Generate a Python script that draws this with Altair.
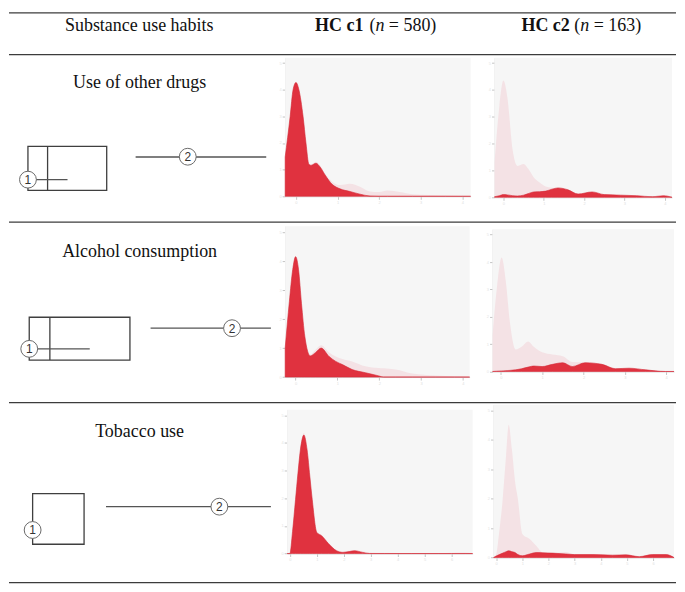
import altair as alt
import pandas as pd

# ---------------- data ----------------
row_labels = ["Use of other drugs", "Alcohol consumption", "Tobacco use"]
col_titles = ["HC c1", "HC c2"]
col_n = ["580", "163"]

# Row 1 - Use of other drugs
r1c1_x = [-0.26, -0.14, -0.07, 0.0, 0.07, 0.17, 0.24, 0.31, 0.36, 0.48, 0.58, 0.70, 0.87,
          1.06, 1.3, 1.54, 1.78, 2.0, 2.2, 2.5, 2.8, 3.2, 3.6, 4.0, 4.2]
r1c1_red = [1.47, 3.0, 4.0, 4.27, 4.0, 3.0, 2.0, 1.2, 1.16, 1.24, 1.1, 0.8, 0.45,
            0.28, 0.18, 0.08, 0.01, 0, 0, 0, 0, 0, 0, 0, 0]
r1c1_all = [1.47, 3.0, 4.0, 4.3, 4.02, 3.02, 2.02, 1.24, 1.2, 1.3, 1.16, 0.86, 0.55,
            0.42, 0.47, 0.36, 0.18, 0.16, 0.22, 0.16, 0.08, 0.05, 0.03, 0.01, 0.01]

r1c2_x = [-0.22, -0.1, 0.0, 0.1, 0.23, 0.35, 0.5, 0.62, 0.75, 0.9, 1.05, 1.2, 1.35,
          1.6, 1.85, 2.2, 2.5, 2.9, 3.3, 3.7, 3.97, 4.18]
r1c2_all = [1.3, 3.4, 4.35, 3.7, 1.75, 1.17, 1.24, 1.05, 0.75, 0.55, 0.4, 0.36, 0.35,
            0.28, 0.15, 0.2, 0.1, 0.08, 0.06, 0.03, 0.06, 0.0]
r1c2_red = [0.02, 0.06, 0.1, 0.09, 0.06, 0.05, 0.08, 0.14, 0.2, 0.21, 0.23, 0.3, 0.35,
            0.28, 0.12, 0.2, 0.1, 0.08, 0.06, 0.02, 0.06, 0.0]

# Row 2 - Alcohol consumption
r2c1_x = [-0.25, -0.15, -0.07, 0.0, 0.07, 0.14, 0.22, 0.35, 0.48, 0.61, 0.8, 0.96,
          1.12, 1.35, 1.67, 1.99, 2.1, 2.39, 2.79, 3.35, 3.8, 4.16]
r2c1_red = [1.0, 2.6, 3.7, 4.15, 3.7, 2.54, 1.4, 0.73, 0.85, 1.0, 0.71, 0.54,
            0.43, 0.26, 0.15, 0.04, 0.0, 0.0, 0.0, 0.0, 0.0, 0.0]
r2c1_all = [1.0, 2.6, 3.7, 4.17, 3.72, 2.58, 1.45, 0.78, 0.95, 1.1, 0.85, 0.71,
            0.62, 0.54, 0.37, 0.31, 0.3, 0.26, 0.12, 0.05, 0.02, 0.0]

r2c2_x = [-0.2, -0.1, 0.02, 0.12, 0.22, 0.36, 0.5, 0.66, 0.8, 1.0, 1.25, 1.5, 1.73,
          2.04, 2.45, 2.77, 3.1, 3.5, 3.98, 4.19]
r2c2_all = [1.3, 3.0, 4.17, 3.3, 1.8, 0.8, 0.9, 1.1, 0.9, 0.7, 0.62, 0.56, 0.35,
            0.33, 0.27, 0.12, 0.12, 0.07, 0.0, 0.0]
r2c2_red = [0.0, 0.01, 0.02, 0.03, 0.04, 0.06, 0.1, 0.16, 0.2, 0.18, 0.26, 0.32, 0.18,
            0.32, 0.26, 0.1, 0.12, 0.06, 0.0, 0.0]

# Row 3 - Tobacco use
r3c1_x = [-0.1, 0.0, 0.1, 0.21, 0.3, 0.39, 0.52, 0.64, 0.74, 0.83, 1.0, 1.18, 1.43,
          1.73, 1.97, 2.2, 2.4, 2.7, 2.96, 3.5, 4.5, 5.5, 6.0, 6.5, 6.78]
r3c1_red = [0.0, 0.0, 0.8, 1.95, 2.9, 3.74, 4.28, 3.74, 2.8, 1.95, 0.76, 0.64, 0.36,
            0.1, 0.04, 0.07, 0.1, 0.04, 0.0, 0.0, 0.0, 0.0, 0.0, 0.0, 0.0]
r3c1_all = [0.0, 0.0, 0.82, 2.0, 2.95, 3.8, 4.36, 3.8, 2.85, 2.0, 0.8, 0.68, 0.4,
            0.14, 0.08, 0.1, 0.13, 0.08, 0.04, 0.03, 0.02, 0.02, 0.03, 0.04, 0.02]

r3c2_x = [-0.1, 0.0, 0.12, 0.25, 0.38, 0.48, 0.6, 0.72, 0.83, 1.0, 1.28, 1.53, 1.79,
          2.16, 2.67, 3.0, 3.7, 4.45, 4.96, 5.47, 5.98, 6.5, 6.8]
r3c2_all = [0.0, 0.1, 0.9, 1.99, 3.48, 4.52, 3.7, 2.6, 1.99, 0.8, 0.63, 0.4, 0.17,
            0.15, 0.19, 0.1, 0.1, 0.08, 0.09, 0.03, 0.1, 0.1, 0.0]
r3c2_red = [0.0, 0.05, 0.1, 0.15, 0.2, 0.23, 0.2, 0.17, 0.1, 0.06, 0.12, 0.17, 0.16,
            0.15, 0.12, 0.1, 0.1, 0.08, 0.09, 0.03, 0.1, 0.1, 0.0]

# ---------------- styling / layout ----------------
RED = "#e0323f"
LIGHT = "#f4e2e5"
BG = "#f6f6f6"
SERIF = "Liberation Serif"
W, H = 669, 576
YMAX = 5.2

def density_panel(xs, allv, red, xdom, xticks, xr, yr):
    df = pd.DataFrame({"x": xs, "all": allv, "red": red})
    bg = pd.DataFrame({"x0": [xdom[0]], "x1": [xdom[1]], "y0": [0.0], "y1": [YMAX]})
    xsc = alt.Scale(domain=xdom, range=xr, nice=False, zero=False)
    ysc = alt.Scale(domain=[0, YMAX], range=yr, nice=False, zero=False)
    xax = alt.Axis(orient="bottom", offset=yr[0] - H, values=xticks, title=None,
                   grid=False, tickSize=3, tickColor="#c4c4c4", domainColor="#d6d6d6",
                   labelFontSize=4, labelColor="#e0e0e0", labelPadding=1)
    yax = alt.Axis(orient="left", offset=-xr[0], values=[0, 1, 2, 3, 4, 5], title=None,
                   grid=False, tickSize=3, tickColor="#c4c4c4", domainColor="#dcdcdc",
                   labelFontSize=4, labelColor="#e4e4e4", labelPadding=1)
    back = alt.Chart(bg).mark_rect(color=BG).encode(
        x=alt.X("x0:Q", scale=xsc, axis=xax), x2="x1:Q",
        y=alt.Y("y0:Q", scale=ysc, axis=yax), y2="y1:Q")
    base = alt.Chart(df)
    light = base.mark_area(color=LIGHT, interpolate="monotone").encode(
        x=alt.X("x:Q", scale=xsc, axis=xax),
        y=alt.Y("all:Q", scale=ysc, axis=yax))
    redm = base.mark_area(color=RED, interpolate="monotone",
                          stroke="#d42a38", strokeWidth=0.6).encode(
        x=alt.X("x:Q", scale=xsc, axis=xax),
        y=alt.Y("red:Q", scale=ysc, axis=yax))
    return alt.layer(back, light, redm)

# ---------------- table frame (rules, texts, diagrams) ----------------
px = lambda f: alt.X(f, scale=None, axis=None)
py = lambda f: alt.Y(f, scale=None, axis=None)

rules = pd.DataFrame({"x": 0, "x2": W, "y": [4, 46, 214, 395, 575.5]})
rule_layer = alt.Chart(rules).mark_rule(color="#3c3c3c", strokeWidth=1.2).encode(
    x=px("x:Q"), x2="x2:Q", y=py("y:Q"))

hdr_norm = pd.DataFrame({"t": ["(", "= " + col_n[0] + ")", "(", "= " + col_n[1] + ")"],
                         "x": [361.5, 381, 567, 586.5], "y": 22})
hdr_bold = pd.DataFrame({"t": col_titles, "x": [307, 514], "y": 22})
hdr_ital = pd.DataFrame({"t": ["n", "n"], "x": [367.5, 573], "y": 22})
hdr_left = pd.DataFrame({"t": ["Substance use habits"], "x": [130.6], "y": 22})
lbl = pd.DataFrame({"t": row_labels, "x": 131, "y": [79.5, 248.7, 429.3]})

def txt(df, align="left", weight="normal", style="normal"):
    return alt.Chart(df).mark_text(font=SERIF, fontSize=18, color="#111111",
                                   align=align, baseline="alphabetic",
                                   fontWeight=weight, fontStyle=style).encode(
        x=px("x:Q"), y=py("y:Q"), text="t:N")

boxes = pd.DataFrame({"x": [19, 20.3, 23.7], "x2": [98, 121.3, 75.3],
                      "y": [138, 309.3, 486.3], "y2": [182, 352.3, 537]})
box_layer = alt.Chart(boxes).mark_rect(fillOpacity=0, stroke="#3f3f3f",
                                       strokeWidth=1.3).encode(
    x=px("x:Q"), x2="x2:Q", y=py("y:Q"), y2="y2:Q")

vlines = pd.DataFrame({"x": [38.7, 41], "y": [138, 309.3], "y2": [182, 352.3]})
vline_layer = alt.Chart(vlines).mark_rule(color="#3f3f3f", strokeWidth=1.3).encode(
    x=px("x:Q"), y=py("y:Q"), y2="y2:Q")

hlines = pd.DataFrame({"x": [19, 20.3, 127, 142, 97.3],
                       "x2": [58.7, 81, 258, 262.7, 262.7],
                       "y": [171.3, 341, 148.6, 320.3, 499.3]})
hline_layer = alt.Chart(hlines).mark_rule(color="#555555", strokeWidth=1.3).encode(
    x=px("x:Q"), x2="x2:Q", y=py("y:Q"))

circ = pd.DataFrame({"t": ["1", "1", "1", "2", "2", "2"],
                     "x": [19, 20.3, 23.7, 179.3, 223.7, 211],
                     "y": [171.3, 341, 522.7, 148.3, 320.3, 499.3]})
circ_layer = alt.Chart(circ).mark_point(shape="circle", size=285, filled=True,
                                        fill="white", stroke="#6a6a6a",
                                        strokeWidth=1, opacity=1).encode(
    x=px("x:Q"), y=py("y:Q"))
circ_txt = alt.Chart(circ).mark_text(font="Liberation Sans", fontSize=12,
                                     color="#333333", align="center",
                                     baseline="middle", dy=0.5).encode(
    x=px("x:Q"), y=py("y:Q"), text="t:N")

frame = alt.layer(rule_layer, txt(hdr_left, align="center"), txt(hdr_norm),
                  txt(hdr_bold, weight="bold"), txt(hdr_ital, style="italic"),
                  txt(lbl, align="center"), box_layer, vline_layer, hline_layer,
                  circ_layer, circ_txt)

# ---------------- density panels (pixel ranges of each plot area) ----------------
t5 = [0, 1, 2, 3, 4]
t7 = [0, 1, 2, 3, 4, 5, 6]
p11 = density_panel(r1c1_x, r1c1_all, r1c1_red, [-0.26, 4.2], t5, [277, 463], [188, 49])
p12 = density_panel(r1c2_x, r1c2_all, r1c2_red, [-0.22, 4.18], t5, [487, 665], [189, 49])
p21 = density_panel(r2c1_x, r2c1_all, r2c1_red, [-0.25, 4.16], t5, [277, 462], [369.3, 218])
p22 = density_panel(r2c2_x, r2c2_all, r2c2_red, [-0.2, 4.19], t5, [485, 667], [363.7, 221])
p31 = density_panel(r3c1_x, r3c1_all, r3c1_red, [-0.1, 6.78], t7, [279, 465], [546.3, 402])
p32 = density_panel(r3c2_x, r3c2_all, r3c2_red, [-0.1, 6.8], t7, [486, 667], [550.3, 397])

chart = (alt.layer(frame, p11, p12, p21, p22, p31, p32)
         .resolve_scale(x="independent", y="independent")
         .properties(width=W, height=H, padding=0, background="white")
         .configure_view(stroke="transparent", strokeWidth=0))

chart.save("out.html", embed_options={"renderer": "svg", "actions": False})
